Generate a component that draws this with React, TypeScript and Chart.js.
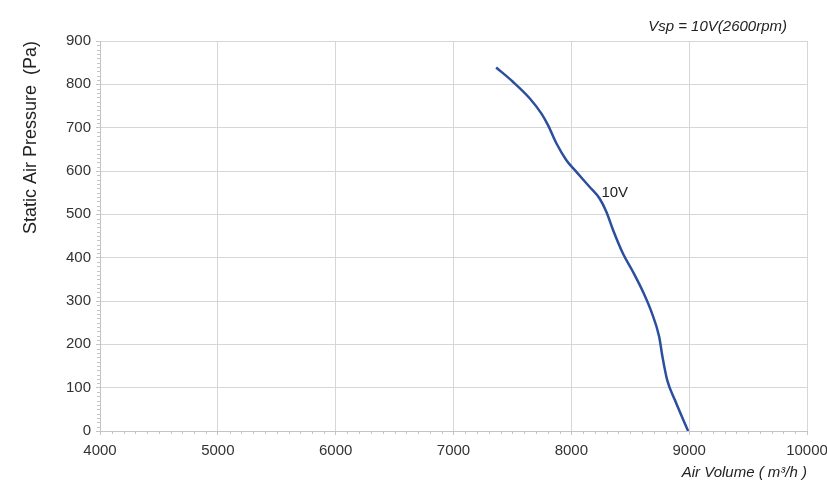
import React, { useEffect, useRef } from "react";
import { Chart, registerables } from "chart.js";

Chart.register(...registerables);

// Air volume (m³/h) and static pressure (Pa)
const airVolume = [7362, 7504, 7646, 7745, 7802, 7873, 7958, 8043, 8156, 8241, 8297, 8354, 8439, 8524, 8609, 8680, 8745, 8773, 8813, 8878, 8991];
const staticPressure = [839, 806, 768, 733, 706, 664, 625, 598, 563, 536, 506, 464, 409, 367, 321, 275, 218, 172, 118, 72, 0];

const xTicks = [4000, 5000, 6000, 7000, 8000, 9000, 10000];
const yTicks = [0, 100, 200, 300, 400, 500, 600, 700, 800, 900];

const seriesLabel = "10V";
const seriesLabelAt = { x: 8255, y: 550 };
const headerText = "Vsp = 10V(2600rpm)";
const xTitle = "Air Volume ( m³/h )";
const yTitle = "Static Air Pressure  (Pa)";

const FONT = "'Liberation Sans', Arial, sans-serif";

const annotations = {
  id: "annotations",
  afterDraw(chart: any) {
    const { ctx, chartArea, scales } = chart;
    const xs = scales.x;
    const ys = scales.y;
    ctx.save();
    // minor ticks
    ctx.strokeStyle = "#c4c4c4";
    ctx.lineWidth = 1;
    ctx.beginPath();
    for (let v = xs.min; v <= xs.max; v += 100) {
      if (v % 1000 === 0) continue;
      const px = Math.round(xs.getPixelForValue(v)) + 0.5;
      ctx.moveTo(px, chartArea.bottom);
      ctx.lineTo(px, chartArea.bottom + 3);
    }
    for (let v = ys.min; v <= ys.max; v += 10) {
      if (v % 100 === 0) continue;
      const py = Math.round(ys.getPixelForValue(v)) + 0.5;
      ctx.moveTo(chartArea.left - 3, py);
      ctx.lineTo(chartArea.left, py);
    }
    ctx.stroke();

    // series label
    ctx.fillStyle = "#222";
    ctx.font = `15px ${FONT}`;
    ctx.textAlign = "left";
    ctx.textBaseline = "middle";
    ctx.fillText(seriesLabel, xs.getPixelForValue(seriesLabelAt.x), ys.getPixelForValue(seriesLabelAt.y));

    // header
    ctx.font = `italic 15px ${FONT}`;
    ctx.textAlign = "right";
    ctx.fillStyle = "#222";
    ctx.fillText(headerText, chartArea.right - 20, chartArea.top - 14);
    ctx.restore();
  },
};

export default function App() {
  const ref = useRef<HTMLCanvasElement>(null);

  useEffect(() => {
    document.body.style.margin = "0";
    const canvas = ref.current!;
    const chart = new Chart(canvas, {
      type: "line",
      data: {
        datasets: [
          {
            label: seriesLabel,
            data: airVolume.map((x, i) => ({ x, y: staticPressure[i] })),
            borderColor: "#2b4f9e",
            borderWidth: 2.5,
            pointRadius: 0,
            cubicInterpolationMode: "monotone",
            fill: false,
          },
        ],
      },
      options: {
        animation: false,
        responsive: false,
        maintainAspectRatio: false,
        layout: { padding: { top: 41, right: 20, left: 0, bottom: 0 } },
        plugins: {
          legend: { display: false },
          tooltip: { enabled: false },
          title: { display: false },
        },
        scales: {
          x: {
            type: "linear",
            min: 4000,
            max: 10000,
            afterBuildTicks: (s: any) => {
              s.ticks = xTicks.map((v) => ({ value: v }));
            },
            afterFit: (s: any) => {
              s.height = 54;
              s.paddingLeft = 0;
              s.paddingRight = 0;
            },
            ticks: {
              color: "#333",
              font: { family: FONT, size: 15 },
              padding: 7,
              maxRotation: 0,
              autoSkip: false,
              callback: (v: any) => String(v),
            },
            grid: { color: "#d6d6d6", lineWidth: 1, tickLength: 4, tickColor: "#c4c4c4" },
            border: { color: "#c4c4c4", width: 1 },
            title: {
              display: true,
              text: xTitle,
              align: "end",
              color: "#222",
              font: { family: FONT, size: 15, style: "italic" },
              padding: { top: 0, bottom: 3 },
            },
          },
          y: {
            type: "linear",
            min: 0,
            max: 900,
            afterBuildTicks: (s: any) => {
              s.ticks = yTicks.map((v) => ({ value: v }));
            },
            afterFit: (s: any) => {
              s.width = 100;
              s.paddingTop = 0;
              s.paddingBottom = 0;
            },
            ticks: {
              color: "#333",
              font: { family: FONT, size: 15 },
              padding: 5,
              autoSkip: false,
              callback: (v: any) => String(v),
            },
            grid: { color: "#d6d6d6", lineWidth: 1, tickLength: 4, tickColor: "#c4c4c4" },
            border: { color: "#c4c4c4", width: 1 },
            title: {
              display: true,
              text: yTitle,
              align: "end",
              color: "#222",
              font: { family: FONT, size: 18 },
              padding: { top: 20, bottom: 0 },
            },
          },
        },
      },
      plugins: [annotations],
    } as any);
    return () => chart.destroy();
  }, []);

  return (
    <div style={{ width: 827, height: 485, background: "#fff" }}>
      <canvas ref={ref} width={827} height={485} style={{ display: "block" }} />
    </div>
  );
}
